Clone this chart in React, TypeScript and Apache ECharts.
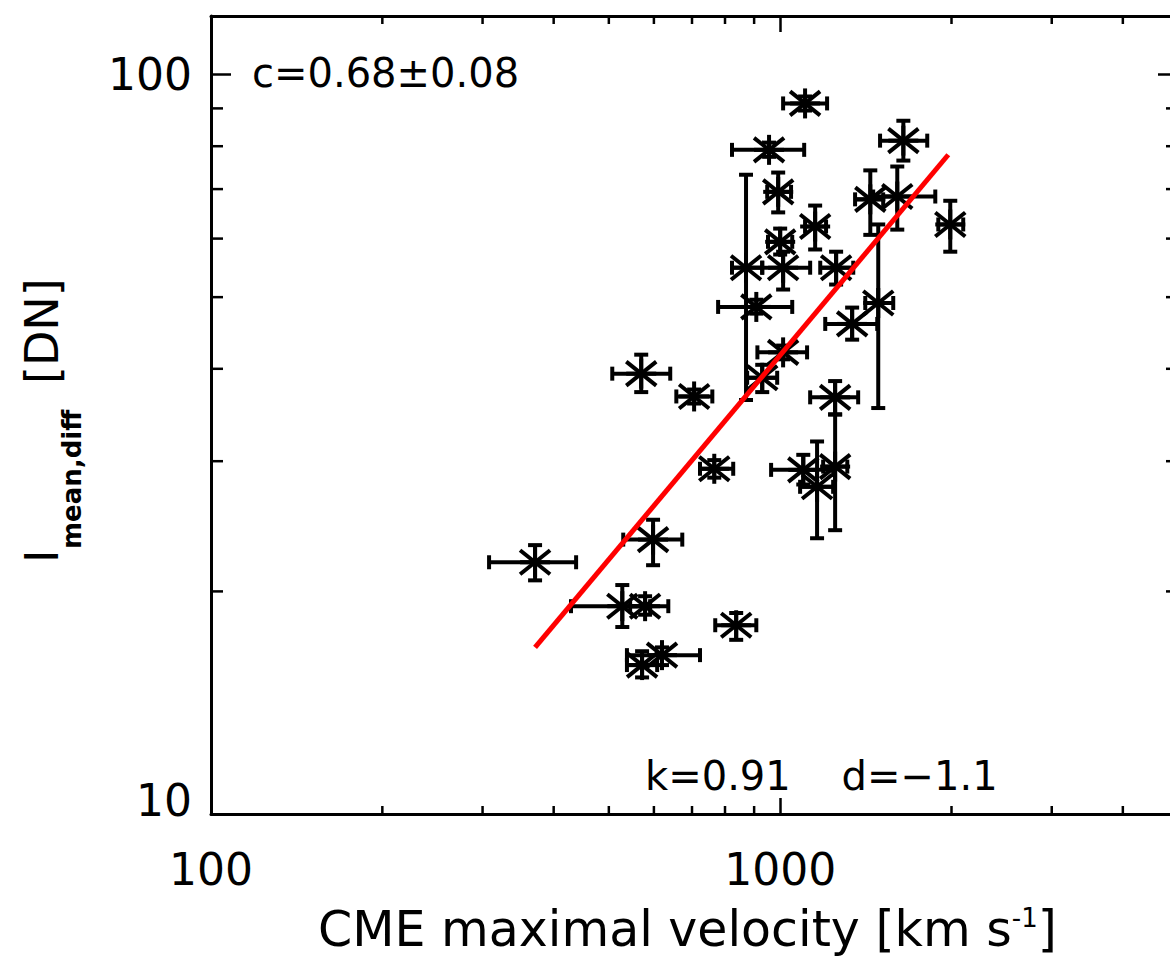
import React, { useEffect, useRef } from "react";
import * as echarts from "echarts";

// CME maximal velocity [km/s] with lower/upper error limits
const velocity = [371, 528, 579, 572, 620, 598, 837, 570, 706, 766, 1106, 956, 1646, 871, 992, 1152, 1440, 1606, 1990, 1000, 1012, 1254, 908, 1487, 1338, 1012, 930, 1249, 1249, 1098, 1161];
const velocityLow = [308, 429, 545, 538, 538, 530, 769, 507, 657, 723, 1012, 823, 1498, 823, 949, 1106, 1354, 1457, 1896, 952, 930, 1176, 778, 1411, 1200, 912, 875, 1129, 1190, 964, 1084];
const velocityHigh = [438, 591, 636, 608, 723, 673, 908, 641, 760, 827, 1209, 1102, 1813, 930, 1045, 1204, 1517, 1873, 2097, 1050, 1129, 1344, 1050, 1580, 1481, 1115, 988, 1371, 1312, 1239, 1239];

// I_mean,diff [DN] with lower/upper error limits
const intensity = [21.9, 19.1, 19.1, 15.9, 16.4, 23.5, 18.0, 39.4, 36.7, 29.3, 91.4, 79.1, 81.4, 54.8, 69.4, 62.3, 67.8, 68.4, 62.7, 59.4, 54.8, 54.8, 48.5, 49.1, 46.0, 42.1, 38.9, 36.6, 29.5, 29.2, 27.7];
const intensityLow = [20.7, 17.9, 18.6, 15.3, 15.9, 21.7, 17.2, 37.2, 35.9, 28.5, 89.4, 77.4, 76.5, 36.3, 65.1, 58.0, 60.7, 61.7, 57.6, 57.1, 51.2, 52.0, 47.5, 35.4, 43.8, 41.2, 37.2, 34.7, 24.2, 27.9, 23.6];
const intensityHigh = [23.1, 20.4, 19.7, 16.6, 16.8, 25.0, 18.7, 41.8, 37.5, 30.1, 93.4, 80.9, 86.6, 73.2, 73.7, 66.5, 74.2, 75.1, 67.5, 61.9, 57.6, 57.6, 49.6, 62.7, 48.4, 43.0, 40.5, 38.5, 34.7, 30.6, 31.9];

// power-law fit line end points
const fitVelocity = [371, 1974];
const fitIntensity = [16.8, 77.9];

// axes
const X_MIN = 100;
const X_MAX = 5000;
const Y_MIN = 10;
const Y_MAX = 120;
const xMinorTicks = [200, 300, 400, 500, 600, 700, 800, 900, 2000, 3000, 4000];
const yMinorTicks = [20, 30, 40, 50, 60, 70, 80, 90];

const FONT = "DejaVu Sans";

export default function App() {
  const ref = useRef<HTMLDivElement>(null);

  useEffect(() => {
    if (!ref.current) return;
    const chart = echarts.init(ref.current, null, { renderer: "svg" });

    const pointData = velocity.map((v, i) => [
      v,
      intensity[i],
      velocityLow[i],
      velocityHigh[i],
      intensityLow[i],
      intensityHigh[i],
    ]);

    const stroke = { stroke: "#000", lineWidth: 4 };

    const errorRender = (params: any, api: any) => {
      const x = api.value(0);
      const y = api.value(1);
      const c = api.coord([x, y]);
      const xl = api.coord([api.value(2), y]);
      const xh = api.coord([api.value(3), y]);
      const yl = api.coord([x, api.value(4)]);
      const yh = api.coord([x, api.value(5)]);
      const cap = 7;
      const arm = 15;
      const dx = 15;
      const dy = 12;
      const ln = (x1: number, y1: number, x2: number, y2: number) => ({
        type: "line",
        shape: { x1, y1, x2, y2 },
        style: stroke,
      });
      return {
        type: "group",
        children: [
          ln(xl[0], c[1], xh[0], c[1]),
          ln(xl[0], c[1] - cap, xl[0], c[1] + cap),
          ln(xh[0], c[1] - cap, xh[0], c[1] + cap),
          ln(c[0], yl[1], c[0], yh[1]),
          ln(c[0] - cap, yl[1], c[0] + cap, yl[1]),
          ln(c[0] - cap, yh[1], c[0] + cap, yh[1]),
          ln(c[0] - arm, c[1], c[0] + arm, c[1]),
          ln(c[0], c[1] - arm, c[0], c[1] + arm),
          ln(c[0] - dx, c[1] - dy, c[0] + dx, c[1] + dy),
          ln(c[0] - dx, c[1] + dy, c[0] + dx, c[1] - dy),
        ],
      };
    };

    const xTickRender = (params: any, api: any) => {
      const v = api.value(0);
      const b = api.coord([v, Y_MIN]);
      const t = api.coord([v, Y_MAX]);
      const st = { stroke: "#000", lineWidth: 2.5 };
      return {
        type: "group",
        children: [
          { type: "line", shape: { x1: b[0], y1: b[1], x2: b[0], y2: b[1] - 8 }, style: st },
          { type: "line", shape: { x1: t[0], y1: t[1], x2: t[0], y2: t[1] + 8 }, style: st },
        ],
      };
    };

    const yTickRender = (params: any, api: any) => {
      const v = api.value(1);
      const l = api.coord([X_MIN, v]);
      const r = api.coord([X_MAX, v]);
      const st = { stroke: "#000", lineWidth: 2.5 };
      return {
        type: "group",
        children: [
          { type: "line", shape: { x1: l[0], y1: l[1], x2: l[0] + 12, y2: l[1] }, style: st },
          { type: "line", shape: { x1: r[0], y1: r[1], x2: r[0] - 12, y2: r[1] }, style: st },
        ],
      };
    };

    const axisLine = { show: true, lineStyle: { color: "#000", width: 3 } };

    const option: any = {
      animation: false,
      backgroundColor: "#fff",
      grid: {
        left: 211,
        top: 16,
        width: 967,
        height: 798,
        containLabel: false,
        outerBoundsMode: "none",
      },
      xAxis: [
        {
          type: "log",
          logBase: 10,
          min: X_MIN,
          max: X_MAX,
          position: "bottom",
          axisLine,
          axisTick: { show: true, inside: true, length: 16, lineStyle: { color: "#000", width: 2.5 } },
          axisLabel: {
            show: true,
            showMaxLabel: false,
            margin: 33,
            fontSize: 44,
            fontFamily: FONT,
            color: "#000",
            formatter: (v: number) => String(Math.round(v)),
          },
          splitLine: { show: false },
        },
        {
          type: "log",
          logBase: 10,
          min: X_MIN,
          max: X_MAX,
          position: "top",
          axisLine,
          axisTick: { show: true, inside: true, length: 16, lineStyle: { color: "#000", width: 2.5 } },
          axisLabel: { show: false },
          splitLine: { show: false },
        },
      ],
      yAxis: [
        {
          type: "log",
          logBase: 10,
          min: Y_MIN,
          max: Y_MAX,
          position: "left",
          axisLine,
          axisTick: { show: true, inside: true, length: 20, lineStyle: { color: "#000", width: 2.5 } },
          axisLabel: {
            show: true,
            showMaxLabel: false,
            margin: 19,
            fontSize: 44,
            fontFamily: FONT,
            color: "#000",
            formatter: (v: number) =>
              Math.abs(v - 10) < 0.01 ? "{lo|10}" : "{n|" + Math.round(v) + "}",
            rich: {
              lo: { fontSize: 44, fontFamily: FONT, color: "#000", padding: [0, 0, 28, 0] },
              n: { fontSize: 44, fontFamily: FONT, color: "#000" },
            },
          },
          splitLine: { show: false },
        },
        {
          type: "log",
          logBase: 10,
          min: Y_MIN,
          max: Y_MAX,
          position: "right",
          axisLine,
          axisTick: { show: true, inside: true, length: 20, lineStyle: { color: "#000", width: 2.5 } },
          axisLabel: { show: false },
          splitLine: { show: false },
        },
      ],
      series: [
        {
          type: "custom",
          name: "xMinorTicks",
          xAxisIndex: 0,
          yAxisIndex: 0,
          silent: true,
          data: xMinorTicks.map((v) => [v, Y_MIN]),
          renderItem: xTickRender,
          z: 3,
        },
        {
          type: "custom",
          name: "yMinorTicks",
          xAxisIndex: 0,
          yAxisIndex: 0,
          silent: true,
          data: yMinorTicks.map((v) => [X_MIN, v]),
          renderItem: yTickRender,
          z: 3,
        },
        {
          type: "custom",
          name: "events",
          xAxisIndex: 0,
          yAxisIndex: 0,
          data: pointData,
          encode: { x: 0, y: 1 },
          renderItem: errorRender,
          z: 4,
        },
        {
          type: "line",
          name: "fit",
          xAxisIndex: 0,
          yAxisIndex: 0,
          data: fitVelocity.map((v, i) => [v, fitIntensity[i]]),
          showSymbol: false,
          symbol: "none",
          lineStyle: { color: "#ff0000", width: 5 },
          z: 6,
        },
      ],
      graphic: [
        {
          type: "text",
          x: 252,
          y: 73,
          style: {
            text: "c=0.68±0.08",
            fontSize: 40,
            fontFamily: FONT,
            fill: "#000",
            verticalAlign: "middle",
            align: "left",
          },
        },
        {
          type: "text",
          x: 645,
          y: 776,
          style: {
            text: "k=0.91    d=−1.1",
            fontSize: 40,
            fontFamily: FONT,
            fill: "#000",
            verticalAlign: "middle",
            align: "left",
          },
        },
        {
          type: "text",
          x: 318,
          y: 929,
          style: {
            text: "CME maximal velocity [km s{sup|-1}]",
            fontSize: 49,
            lineHeight: 48,
            fontFamily: FONT,
            fill: "#000",
            verticalAlign: "middle",
            align: "left",
            rich: {
              sup: { fontSize: 26, lineHeight: 30, fontFamily: FONT, fill: "#000", verticalAlign: "top" },
            },
          },
        },
        {
          type: "group",
          x: 42,
          y: 563,
          rotation: Math.PI / 2,
          children: [
            {
              type: "text",
              x: 0,
              y: 0,
              style: { text: "I", fontSize: 46, fontFamily: FONT, fill: "#000", verticalAlign: "middle", align: "left" },
            },
            {
              type: "text",
              x: 14,
              y: 30,
              style: {
                text: "mean,diff",
                fontSize: 26,
                fontWeight: "bold",
                fontFamily: FONT,
                fill: "#000",
                verticalAlign: "middle",
                align: "left",
              },
            },
            {
              type: "text",
              x: 179,
              y: 0,
              style: { text: "[DN]", fontSize: 46, fontFamily: FONT, fill: "#000", verticalAlign: "middle", align: "left" },
            },
          ],
        },
      ],
    };

    chart.setOption(option);
    return () => chart.dispose();
  }, []);

  return (
    <div
      ref={ref}
      style={{ position: "absolute", left: 0, top: 0, width: 1170, height: 956, background: "#fff" }}
    />
  );
}
